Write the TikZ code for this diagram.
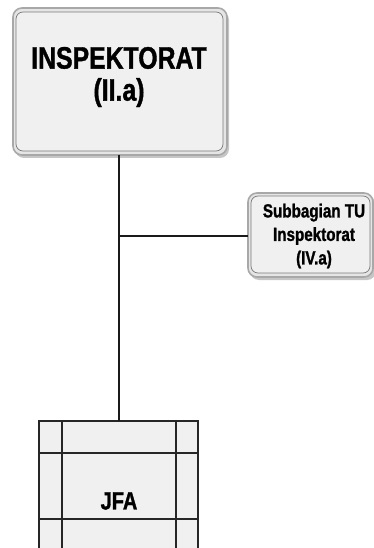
\documentclass[tikz,border=0pt]{standalone}
\usepackage{fontspec}
\setmainfont{Liberation Sans}
\newfontfamily\nf[FakeStretch=0.8,FakeBold=1.2]{Liberation Sans}
\definecolor{boxfill}{HTML}{F0F0F0}
\definecolor{outerline}{HTML}{A8A8A8}
\definecolor{innerline}{HTML}{7A7A7A}
\definecolor{conn}{HTML}{1A1A1A}
\begin{document}
\begin{tikzpicture}[x=1pt,y=-1pt,
  outerbox/.style={fill=boxfill!90!gray, draw=outerline, line width=1.6pt, rounded corners=9pt},
  innerbox/.style={fill=boxfill, draw=innerline, line width=0.7pt, rounded corners=7pt},
  shadowbox/.style={fill=gray!45, draw=none, rounded corners=9pt},
  txt/.style={font=\nf\bfseries, align=center, text=black, inner sep=0pt},
  connector/.style={draw=conn, line width=1.4pt},
  grid/.style={draw=black!85, line width=1.2pt}]
\useasboundingbox (0,0) rectangle (374,548);
% top box
\fill[shadowbox] (15,11) rectangle (229,158);
\draw[outerbox] (13,8) rectangle (227,155);
\draw[innerbox] (16,12) rectangle (223,151);
\node[txt, font=\nf\bfseries\fontsize{31}{32}\selectfont] (insp) at (119,77) {INSPEKTORAT\\(II.a)};
\coordinate (inspS) at (119,155);
% sub box
\fill[shadowbox] (250,196) rectangle (376,280);
\draw[outerbox] (248,193) rectangle (373,277);
\draw[innerbox] (251,196) rectangle (370,273);
\coordinate (subW) at (248,236);
\node[txt, font=\nf\bfseries\fontsize{19}{23.5}\selectfont] (sub) at (314,236) {Subbagian TU\\Inspektorat\\(IV.a)};
% JFA box
\fill[boxfill] (39,421) rectangle (198,560);
\draw[grid] (39,560) -- (39,421) -- (198,421) -- (198,560);
\draw[grid] (62,421) -- (62,560);
\draw[grid] (176,421) -- (176,560);
\draw[grid] (39,453) -- (198,453);
\draw[grid] (39,519) -- (198,519);
\coordinate (jfaN) at (119,421);
\node[txt, font=\nf\bfseries\fontsize{25}{25}\selectfont] (jfa) at (119,501) {JFA};
% connectors
\coordinate (br) at (119,236);
\draw[connector] (inspS) -- (jfaN);
\draw[connector] (br) -- (subW);
\end{tikzpicture}
\end{document}
